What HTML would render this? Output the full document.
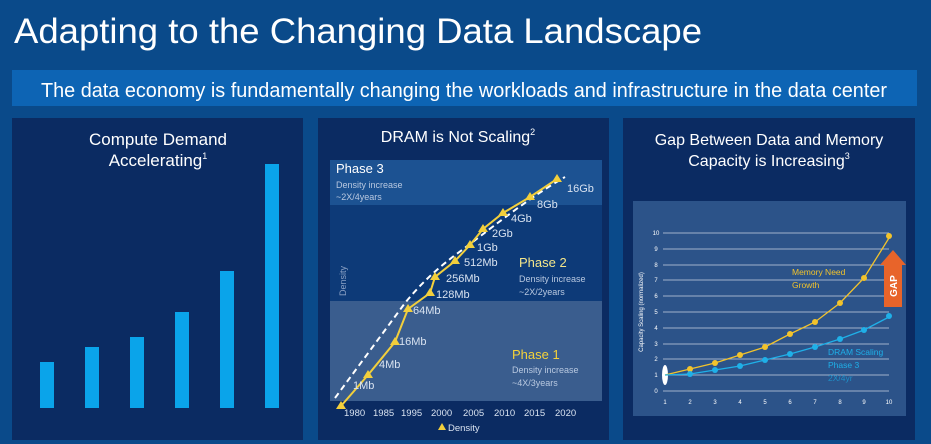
<!DOCTYPE html>
<html><head><meta charset="utf-8"><style>
html,body{margin:0;padding:0;background:#0a4a8a;}
svg{display:block;font-family:"Liberation Sans",sans-serif;}
</style></head><body>
<svg width="931" height="444" viewBox="0 0 931 444" xmlns="http://www.w3.org/2000/svg">
<rect width="931" height="444" fill="#0a4a8a"/>
<text x="14" y="43" font-size="35" fill="#fff" textLength="688" lengthAdjust="spacingAndGlyphs">Adapting to the Changing Data Landscape</text>
<rect x="12" y="70" width="905" height="36" fill="#0d64b4"/>
<text x="464" y="97" font-size="20" fill="#fff" text-anchor="middle" textLength="846" lengthAdjust="spacingAndGlyphs">The data economy is fundamentally changing the workloads and infrastructure in the data center</text>

<!-- left panel -->
<rect x="12" y="118" width="291" height="322" fill="#0b2b62"/>
<text x="158" y="145" font-size="17" fill="#fff" text-anchor="middle">Compute Demand</text>
<text x="158" y="166" font-size="17" fill="#fff" text-anchor="middle">Accelerating<tspan font-size="9" dy="-7">1</tspan></text>
<g fill="#0aa4ea">
<rect x="40" y="362" width="14" height="46"/>
<rect x="85" y="347" width="14" height="61"/>
<rect x="130" y="337" width="14" height="71"/>
<rect x="175" y="312" width="14" height="96"/>
<rect x="220" y="271" width="14" height="137"/>
<rect x="265" y="164" width="14" height="244"/>
</g>

<!-- middle panel -->
<rect x="318" y="118" width="291" height="322" fill="#0b2b62"/>
<text x="458" y="142" font-size="16" fill="#fff" text-anchor="middle">DRAM is Not Scaling<tspan font-size="9" dy="-7">2</tspan></text>
<rect x="330" y="160" width="272" height="45" fill="#1c5292"/>
<rect x="330" y="205" width="272" height="96" fill="#0d3a78"/>
<rect x="330" y="301" width="272" height="100" fill="#3a5d8e"/>
<text x="336" y="173" font-size="13" fill="#fff">Phase 3</text>
<text x="336" y="188" font-size="9" fill="#b8c8e0">Density increase</text>
<text x="336" y="200" font-size="9" fill="#b8c8e0">~2X/4years</text>
<text x="519" y="267" font-size="13" fill="#f4e68a">Phase 2</text>
<text x="519" y="282" font-size="9" fill="#b8c8e0">Density increase</text>
<text x="519" y="295" font-size="9" fill="#b8c8e0">~2X/2years</text>
<text x="512" y="359" font-size="13" fill="#f4d23a">Phase 1</text>
<text x="512" y="373" font-size="9" fill="#b8c8e0">Density increase</text>
<text x="512" y="386" font-size="9" fill="#b8c8e0">~4X/3years</text>
<text x="346" y="296" font-size="9" fill="#8aa0c4" transform="rotate(-90 346 296)">Density</text>
<path d="M335,398 L405,303 C422,282 440,266 462,250 S525,200 565,177" fill="none" stroke="#fff" stroke-width="2" stroke-dasharray="6,4"/>
<polyline points="341,406 368,375 395,342 408,309 430,293 435,277 455,261 470,245 483,229 503,213 530,197 557,179" fill="none" stroke="#f2cf3c" stroke-width="2"/>
<g fill="#f2cf3c">
<path d="M341,401 l-5,8 h10z"/><path d="M368,370 l-5,8 h10z"/><path d="M395,337 l-5,8 h10z"/><path d="M408,304 l-5,8 h10z"/><path d="M430,288 l-5,8 h10z"/><path d="M435,272 l-5,8 h10z"/><path d="M455,256 l-5,8 h10z"/><path d="M470,240 l-5,8 h10z"/><path d="M483,224 l-5,8 h10z"/><path d="M503,208 l-5,8 h10z"/><path d="M530,192 l-5,8 h10z"/><path d="M557,174 l-5,8 h10z"/>
<path d="M442,423 l-4,7 h8z"/>
</g>
<g font-size="11" fill="#d8e2f0">
<text x="567" y="192">16Gb</text><text x="537" y="208">8Gb</text><text x="511" y="222">4Gb</text><text x="492" y="237">2Gb</text><text x="477" y="251">1Gb</text><text x="464" y="266">512Mb</text><text x="446" y="282">256Mb</text><text x="436" y="298">128Mb</text><text x="413" y="314">64Mb</text><text x="399" y="345">16Mb</text><text x="379" y="368">4Mb</text><text x="353" y="389">1Mb</text>
</g>
<g font-size="9.5" fill="#d8e2f0">
<text x="344" y="416">1980</text><text x="373" y="416">1985</text><text x="401" y="416">1995</text><text x="431" y="416">2000</text><text x="463" y="416">2005</text><text x="494" y="416">2010</text><text x="524" y="416">2015</text><text x="555" y="416">2020</text>
<text x="448" y="431">Density</text>
</g>

<!-- right panel -->
<rect x="623" y="118" width="292" height="322" fill="#0b2b62"/>
<text x="769" y="145" font-size="16" fill="#fff" text-anchor="middle">Gap Between Data and Memory</text>
<text x="769" y="166" font-size="16" fill="#fff" text-anchor="middle">Capacity is Increasing<tspan font-size="9" dy="-7">3</tspan></text>
<rect x="633" y="201" width="273" height="215" fill="#2c5389"/>
<g stroke="#9fb2cc" stroke-width="1">
<line x1="663" y1="391" x2="889" y2="391"/><line x1="663" y1="375" x2="889" y2="375"/><line x1="663" y1="359" x2="889" y2="359"/><line x1="663" y1="344" x2="889" y2="344"/><line x1="663" y1="328" x2="889" y2="328"/><line x1="663" y1="312" x2="889" y2="312"/><line x1="663" y1="296" x2="889" y2="296"/><line x1="663" y1="280" x2="889" y2="280"/><line x1="663" y1="265" x2="889" y2="265"/><line x1="663" y1="249" x2="889" y2="249"/><line x1="663" y1="233" x2="889" y2="233"/>
</g>
<g font-size="6" fill="#fff" text-anchor="middle">
<text x="656" y="393">0</text><text x="656" y="377">1</text><text x="656" y="361">2</text><text x="656" y="346">3</text><text x="656" y="330">4</text><text x="656" y="314">5</text><text x="656" y="298">6</text><text x="656" y="282">7</text><text x="656" y="267">8</text><text x="656" y="251">9</text><text x="656" y="235">10</text>
<text x="665" y="404">1</text><text x="690" y="404">2</text><text x="715" y="404">3</text><text x="740" y="404">4</text><text x="765" y="404">5</text><text x="790" y="404">6</text><text x="815" y="404">7</text><text x="840" y="404">8</text><text x="864" y="404">9</text><text x="889" y="404">10</text>
</g>
<text x="643" y="312" font-size="6" fill="#fff" text-anchor="middle" transform="rotate(-90 643 312)">Capacity Scaling (normalized)</text>
<ellipse cx="665" cy="375" rx="3" ry="10" fill="#fff"/>
<polyline points="665,375 690,369 715,363 740,355 765,347 790,334 815,322 840,303 864,278 889,238" fill="none" stroke="#f2c32c" stroke-width="1.3"/>
<g fill="#f2c32c"><circle cx="690" cy="369" r="3"/><circle cx="715" cy="363" r="3"/><circle cx="740" cy="355" r="3"/><circle cx="765" cy="347" r="3"/><circle cx="790" cy="334" r="3"/><circle cx="815" cy="322" r="3"/><circle cx="840" cy="303" r="3"/><circle cx="864" cy="278" r="3"/><circle cx="889" cy="236" r="3"/></g>
<polyline points="665,375 690,374 715,370 740,366 765,360 790,354 815,347 840,339 864,330 889,317" fill="none" stroke="#1fb0e8" stroke-width="1.3"/>
<g fill="#1fb0e8"><circle cx="690" cy="374" r="3"/><circle cx="715" cy="370" r="3"/><circle cx="740" cy="366" r="3"/><circle cx="765" cy="360" r="3"/><circle cx="790" cy="354" r="3"/><circle cx="815" cy="347" r="3"/><circle cx="840" cy="339" r="3"/><circle cx="864" cy="330" r="3"/><circle cx="889" cy="316" r="3"/></g>
<text x="792" y="275" font-size="8.5" fill="#f2c32c">Memory Need</text>
<text x="792" y="288" font-size="8.5" fill="#f2c32c">Growth</text>
<text x="828" y="355" font-size="8.5" fill="#1fb0e8">DRAM Scaling</text>
<text x="828" y="368" font-size="8.5" fill="#1fb0e8">Phase 3</text>
<text x="828" y="381" font-size="8.5" fill="#1f90c8">2X/4yr</text>
<path d="M884,307 V265 H880 L893,250 L906,265 H902 V307 Z" fill="#e8642a"/>
<text x="897" y="286" font-size="10" font-weight="bold" fill="#fff" text-anchor="middle" transform="rotate(-90 897 286)">GAP</text>
</svg>
</body></html>
